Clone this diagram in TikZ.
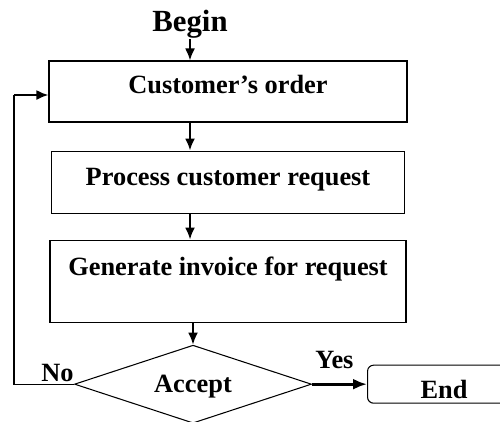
\documentclass[tikz,border=0pt]{standalone}
\usepackage{fontspec}
\setmainfont{Liberation Serif}
\usepackage{tikz}
\usetikzlibrary{positioning,shapes.geometric,arrows.meta}

\begin{document}
\begin{tikzpicture}[
    font=\fontsize{15}{18}\selectfont\bfseries,
    box/.style={draw, line width=0.6pt, inner sep=0pt},
    lbl/.style={inner sep=0pt},
    arr/.style={-{Latex[length=2.4mm,width=2mm]}, line width=1.2pt}
  ]
    \useasboundingbox (0,0) rectangle (10,-8.42);

    \node[box, text height=0.64cm, text depth=0.58cm, minimum width=7.16cm]
      (Order) at (4.56,-1.83) {Customer's order};
    \node[box, below=0.56cm of Order, text height=0.68cm, text depth=0.56cm,
      minimum width=7.06cm] (Process) {Process customer request};
    \node[box, below=0.52cm of Process, text height=0.70cm, text depth=0.94cm,
      minimum width=7.12cm] (Invoice) {Generate invoice for request};
    \node[box, diamond, aspect=3, below=0.44cm of Invoice, xshift=-0.70cm,
      minimum width=4.74cm, minimum height=1.56cm,
      text height=0.35cm, text depth=0cm] (Accept) {Accept};
    \node[box, right=1.1cm of Accept, rounded corners=0.12cm,
      text height=0.66cm, text depth=0.1cm, minimum width=3.06cm] (End) {End};

    \node[lbl, anchor=south, font=\fontsize{17.5}{20}\selectfont\bfseries]
      (Begin) at (3.8,-0.78) {Begin};
    \node[lbl, anchor=base east] (No) at ([yshift=0.06cm]Accept.west) {No};
    \node[lbl, anchor=base west] (Yes) at ([xshift=0.06cm,yshift=0.32cm]Accept.east) {Yes};

    \coordinate (Loop) at (0.28,-1.9);

    \draw[arr] (Begin.south) -- (Begin.south |- Order.north);
    \draw[arr] (Order.south -| Begin.south) -- (Process.north -| Begin.south);
    \draw[arr] (Process.south -| Begin.south) -- (Invoice.north -| Begin.south);
    \draw[arr] (Invoice.south -| Accept.north) -- (Accept.north);
    \draw[-{Latex[length=2.8mm,width=2.2mm]}, line width=1.7pt] (Accept.east) -- (End.west);
    \draw[line width=0.6pt] (Accept.west) -| (Loop);
    \draw[arr] (Loop) -- (Loop -| Order.west);
  \end{tikzpicture}
\end{document}
